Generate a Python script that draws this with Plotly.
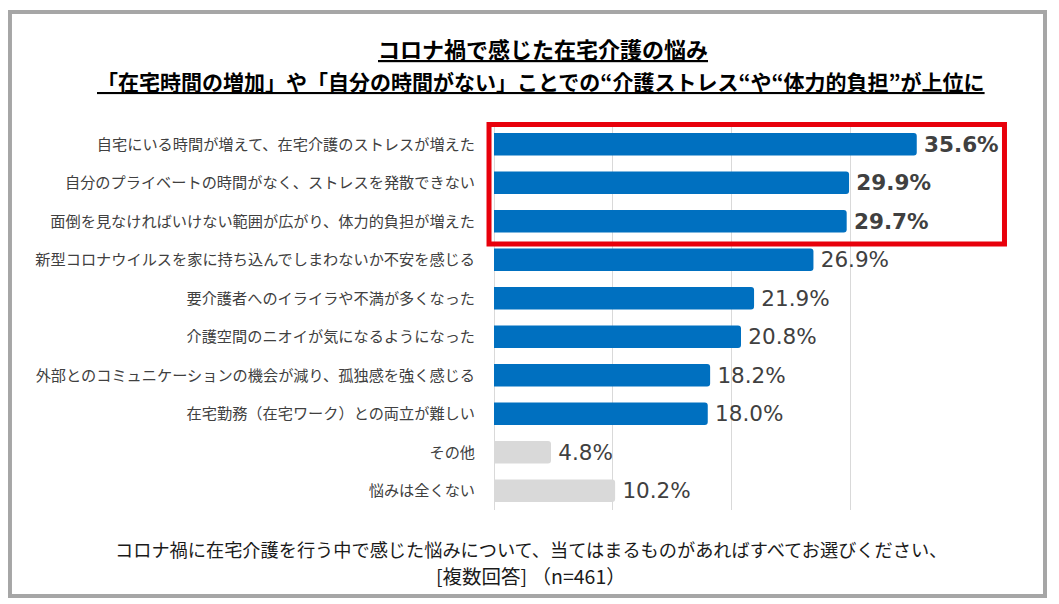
import plotly.graph_objects as go

# answers (top to bottom) and share of respondents in %
items = [
    '自宅にいる時間が増えて、在宅介護のストレスが増えた',
    '自分のプライベートの時間がなく、ストレスを発散できない',
    '面倒を見なければいけない範囲が広がり、体力的負担が増えた',
    '新型コロナウイルスを家に持ち込んでしまわないか不安を感じる',
    '要介護者へのイライラや不満が多くなった',
    '介護空間のニオイが気になるようになった',
    '外部とのコミュニケーションの機会が減り、孤独感を強く感じる',
    '在宅勤務（在宅ワーク）との両立が難しい',
    'その他',
    '悩みは全くない',
]
values = [35.6, 29.9, 29.7, 26.9, 21.9, 20.8, 18.2, 18.0, 4.8, 10.2]
top3 = items[:3]
grey_items = ['その他', '悩みは全くない']

title1 = 'コロナ禍で感じた在宅介護の悩み'
title2 = '「在宅時間の増加」や「自分の時間がない」ことでの“介護ストレス“や“体力的負担”が上位に'
note1 = 'コロナ禍に在宅介護を行う中で感じた悩みについて、当てはまるものがあればすべてお選びください、'
note2 = '[複数回答] （n=461）'

colors = ['#D9D9D9' if it in grey_items else '#0070C0' for it in items]
labels = ['\u2009<b>%.1f%%</b>' % v if it in top3 else '\u2009%.1f%%' % v
          for it, v in zip(items, values)]

fig = go.Figure()
fig.add_trace(go.Bar(
    x=values, y=items, orientation='h',
    marker=dict(color=colors, line=dict(width=0)),
    text=labels, textposition='outside', cliponaxis=False, constraintext='none',
    textfont=dict(size=21.5, color='#404040', family='DejaVu Sans'),
    hoverinfo='skip',
))

# red box round the top three answers
fig.add_shape(type='rect', xref='paper', yref='paper',
              x0=-0.0105, x1=1.0747, y0=0.691, y1=1.0013,
              line=dict(color='#E8000B', width=5))

# outer frame
fig.add_shape(type='rect', xref='paper', yref='paper',
              x0=-1.019, x1=1.16, y0=-0.2234, y1=1.2935,
              line=dict(color='#A6A6A6', width=4), layer='below')

fig.add_annotation(text=title1, xref='paper', yref='paper', x=0.104, y=1.2,
                   showarrow=False, xanchor='center', yanchor='middle',
                   font=dict(size=22, color='black', weight='bold', lineposition='under',
                             family='Noto Sans CJK JP'))
fig.add_annotation(text=title2, xref='paper', yref='paper', x=0.099, y=1.114,
                   showarrow=False, xanchor='center', yanchor='middle',
                   font=dict(size=21, color='black', weight='bold', lineposition='under',
                             family='Noto Sans CJK JP'))
fig.add_annotation(text=note1, xref='paper', yref='paper', x=0.078, y=-0.101,
                   showarrow=False, xanchor='center', yanchor='middle',
                   font=dict(size=18.2, color='#1A1A1A', family='Noto Sans CJK JP'))
fig.add_annotation(text=note2, xref='paper', yref='paper', x=0.078, y=-0.17,
                   showarrow=False, xanchor='center', yanchor='middle',
                   font=dict(size=19.5, color='#1A1A1A', family='Noto Sans CJK JP'))

# page body has an 8px margin, so the figure is 8px smaller than the window
fig.update_layout(
    width=1051, height=596,
    margin=dict(l=486, r=90, t=117, b=94),
    plot_bgcolor='white', paper_bgcolor='white',
    bargap=0.42,
    barcornerradius=3,
    showlegend=False,
    font=dict(family='Noto Sans CJK JP', color='#404040'),
)
fig.update_xaxes(range=[0, 40], dtick=10, showticklabels=False,
                 showgrid=True, gridcolor='#D9D9D9', gridwidth=1,
                 zeroline=True, zerolinecolor='#D9D9D9', zerolinewidth=1, fixedrange=True)
fig.update_yaxes(autorange='reversed', ticklabelstandoff=18, showgrid=False,
                 tickfont=dict(size=15.2, color='#404040'), fixedrange=True)

fig.write_html('out.html')
